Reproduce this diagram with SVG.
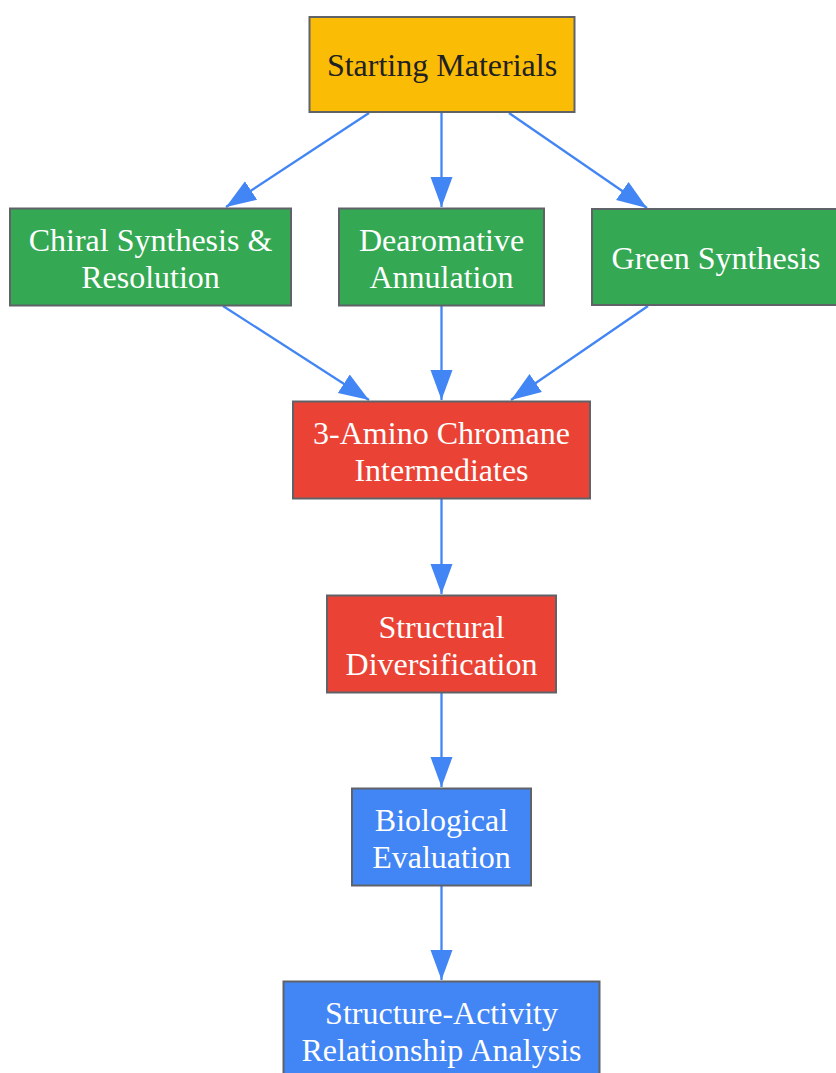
<svg xmlns="http://www.w3.org/2000/svg" width="836" height="1073" viewBox="0 0 836 1073">
<style>
.box{stroke:#5f6368;stroke-width:2}
.y{fill:#FBBC05}.g{fill:#34A853}.r{fill:#EA4335}.b{fill:#4285F4}
text{font-family:"Liberation Serif","Times New Roman",serif;font-size:32px;text-anchor:middle;fill:#ffffff}
text.dark{fill:#202124}
.edge{stroke:#4285F4;stroke-width:2.3;fill:none}
</style>
<defs>
<marker id="ah" markerUnits="userSpaceOnUse" markerWidth="31" markerHeight="23" refX="30" refY="11" orient="auto">
<path d="M0,0 L30,11 L0,22 z" fill="#4285F4"/>
</marker>
</defs>
<rect width="836" height="1073" fill="#ffffff"/>
<g id="connectors">
<line class="edge" x1="369" y1="113" x2="226" y2="207" marker-end="url(#ah)"/>
<line class="edge" x1="441.5" y1="113" x2="441.5" y2="207" marker-end="url(#ah)"/>
<line class="edge" x1="509" y1="113" x2="647" y2="208" marker-end="url(#ah)"/>
<line class="edge" x1="223" y1="306" x2="369" y2="400" marker-end="url(#ah)"/>
<line class="edge" x1="441.5" y1="306" x2="441.5" y2="400" marker-end="url(#ah)"/>
<line class="edge" x1="648" y1="306" x2="511" y2="400" marker-end="url(#ah)"/>
<line class="edge" x1="441.5" y1="499" x2="441.5" y2="594" marker-end="url(#ah)"/>
<line class="edge" x1="441.5" y1="693" x2="441.5" y2="787" marker-end="url(#ah)"/>
<line class="edge" x1="441.5" y1="886" x2="441.5" y2="980" marker-end="url(#ah)"/>
</g>
<g id="starting">
<rect class="box y" x="309.5" y="17" width="265" height="95"/>
<text class="dark" x="442" y="76">Starting Materials</text>
</g>
<g id="chiral">
<rect class="box g" x="10" y="208.5" width="281" height="97"/>
<text x="150.5" y="250.5">Chiral Synthesis &amp;</text>
<text x="150.5" y="287.5">Resolution</text>
</g>
<g id="dearomative">
<rect class="box g" x="339" y="208.5" width="205" height="97"/>
<text x="441.5" y="250.5">Dearomative</text>
<text x="441.5" y="287.5">Annulation</text>
</g>
<g id="green">
<rect class="box g" x="592" y="209" width="248" height="96"/>
<text x="716" y="268.5">Green Synthesis</text>
</g>
<g id="amino">
<rect class="box r" x="293" y="401.5" width="297" height="97"/>
<text x="441.5" y="443.5">3-Amino Chromane</text>
<text x="441.5" y="480.5">Intermediates</text>
</g>
<g id="structural">
<rect class="box r" x="327" y="595.5" width="229" height="97"/>
<text x="441.5" y="637.5">Structural</text>
<text x="441.5" y="674.5">Diversification</text>
</g>
<g id="biological">
<rect class="box b" x="352" y="788.5" width="179" height="97"/>
<text x="441.5" y="830.5">Biological</text>
<text x="441.5" y="867.5">Evaluation</text>
</g>
<g id="sar">
<rect class="box b" x="283.5" y="981.5" width="316" height="97"/>
<text x="441.5" y="1023.5">Structure-Activity</text>
<text x="441.5" y="1060.5">Relationship Analysis</text>
</g>
</svg>
